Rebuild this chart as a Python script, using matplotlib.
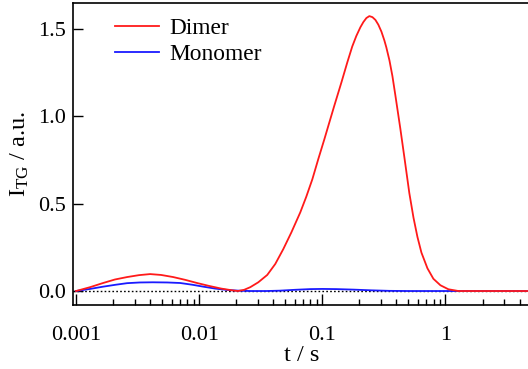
import matplotlib
matplotlib.use("Agg")
import matplotlib.pyplot as plt
from matplotlib.ticker import LogLocator, FixedLocator, NullFormatter

plt.rcParams['font.family'] = ['Liberation Serif', 'DejaVu Serif']
plt.rcParams['mathtext.fontset'] = 'custom'
plt.rcParams['mathtext.rm'] = 'Liberation Serif'
plt.rcParams['mathtext.it'] = 'Liberation Serif:italic'

# time axis values (s) and TG intensities
t_dimer = [0.001, 0.0013, 0.00166, 0.00207, 0.0026, 0.00325, 0.0040, 0.00491,
           0.00615, 0.0077, 0.0096, 0.01206, 0.0151, 0.01854, 0.0206, 0.0232,
           0.026, 0.0302, 0.0357, 0.0415, 0.0482, 0.056, 0.0662, 0.0741,
           0.083, 0.0927, 0.104, 0.114, 0.125, 0.143, 0.1597, 0.175, 0.1888,
           0.2037, 0.2155, 0.228, 0.241, 0.2553, 0.270, 0.285, 0.302, 0.319,
           0.331, 0.351, 0.371, 0.392, 0.430, 0.465, 0.509, 0.550, 0.592,
           0.638, 0.714, 0.798, 0.910, 1.057, 1.276, 2.0, 5.0]
i_dimer = [0.0, 0.022, 0.046, 0.066, 0.080, 0.091, 0.097, 0.092,
           0.080, 0.064, 0.046, 0.029, 0.014, 0.004, 0.0, 0.007,
           0.022, 0.05, 0.092, 0.155, 0.24, 0.335, 0.45, 0.54,
           0.64, 0.755, 0.87, 0.965, 1.06, 1.195, 1.31, 1.40, 1.46,
           1.51, 1.54, 1.563, 1.574, 1.568, 1.552, 1.525, 1.485, 1.435,
           1.395, 1.32, 1.23, 1.12, 0.93, 0.76, 0.56, 0.42, 0.31,
           0.22, 0.13, 0.07, 0.033, 0.01, 0.0, 0.0, 0.0]

t_mono = [0.001, 0.0013, 0.00166, 0.0021, 0.0026, 0.0033, 0.0042, 0.0055,
          0.0070, 0.0088, 0.0108, 0.0135, 0.0169, 0.021, 0.026, 0.035,
          0.045, 0.06, 0.08, 0.1, 0.13, 0.18, 0.25, 0.35, 0.5, 5.0]
i_mono = [0.0, 0.012, 0.025, 0.036, 0.045, 0.049, 0.050, 0.049,
          0.046, 0.036, 0.025, 0.014, 0.006, 0.002, 0.0, 0.0,
          0.002, 0.007, 0.011, 0.012, 0.011, 0.008, 0.004, 0.001, 0.0, 0.0]

fig = plt.figure(figsize=(5.28, 3.69), dpi=100)
ax = fig.add_axes([73 / 528, 64 / 369, 458 / 528, 302 / 369])

ax.axhline(0, color='black', linestyle=(0, (1.2, 1.6)), linewidth=1.0, zorder=1)
l_mono, = ax.plot(t_mono, i_mono, color='#1a1aff', linewidth=1.3, label='Monomer', zorder=2)
l_dim, = ax.plot(t_dimer, i_dimer, color='#ff1a1a', linewidth=1.3, label='Dimer', zorder=3)

ax.set_xscale('log')
ax.set_xlim(0.000945, 4.95)
ax.set_ylim(-0.08, 1.649)

ax.xaxis.set_major_locator(FixedLocator([0.001, 0.01, 0.1, 1]))
ax.set_xticklabels(['0.001', '0.01', '0.1', '1'])
ax.xaxis.set_minor_locator(LogLocator(base=10, subs=range(2, 10)))
ax.xaxis.set_minor_formatter(NullFormatter())
ax.set_yticks([0.0, 0.5, 1.0, 1.5])
ax.set_yticklabels(['0.0', '0.5', '1.0', '1.5'])

ax.tick_params(axis='x', which='major', direction='in', length=8, width=1.0, pad=15, labelsize=16)
ax.tick_params(axis='x', which='minor', direction='in', length=4, width=1.0)
ax.tick_params(axis='y', which='major', direction='in', length=7, width=1.0, pad=5, labelsize=16)
ax.tick_params(top=False, right=False, which='both')
for sp in ax.spines.values():
    sp.set_linewidth(1.2)

ax.set_xlabel('t / s', fontsize=17.5, labelpad=0)
ax.set_ylabel(r'I$_{\mathrm{TG}}$ / a.u.', fontsize=17.5)
ax.yaxis.set_label_coords(-0.092, 0.5)

ax.legend([l_dim, l_mono], ['Dimer', 'Monomer'], loc='upper left', frameon=False,
          bbox_to_anchor=(42 / 458, 0.95), borderpad=0, borderaxespad=0,
          handlelength=1.9, handletextpad=0.45, labelspacing=0.2, fontsize=16.8)

fig.savefig('out.png', dpi=100)
